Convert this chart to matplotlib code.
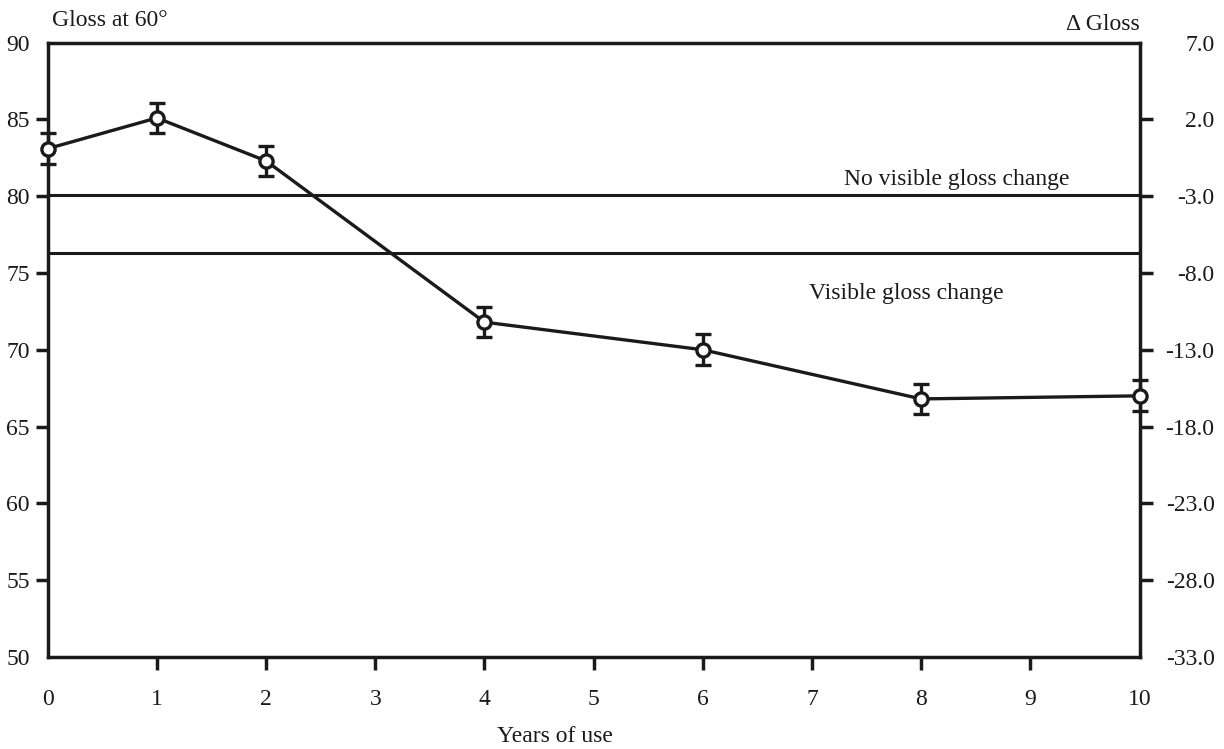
import matplotlib.pyplot as plt
import numpy as np

plt.rcParams['font.family'] = 'Liberation Serif'

years = [0, 1, 2, 4, 6, 8, 10]
gloss = [83.1, 85.1, 82.3, 71.8, 70.0, 66.8, 67.0]
gloss_err = [1.0, 1.0, 1.0, 1.0, 1.0, 1.0, 1.0]
gloss_ref = 83.0
no_visible_level = 80.1
visible_level = 76.3

left_ticks = [50, 55, 60, 65, 70, 75, 80, 85, 90]
right_ticks = [7.0, 2.0, -3.0, -8.0, -13.0, -18.0, -23.0, -28.0, -33.0]
x_ticks = list(range(0, 11))

ink = '#1a1a1a'
tick_len = 9

fig = plt.figure(figsize=(12.24, 7.49), dpi=100)
ax = fig.add_axes([0.039, 0.123, 0.892, 0.820])

ax.axhline(no_visible_level, color=ink, lw=2.2)
ax.axhline(visible_level, color=ink, lw=2.2)

ax.errorbar(years, gloss, yerr=gloss_err, color=ink, lw=2.4,
            marker='o', ms=9.5, mfc='white', mec=ink, mew=2.4,
            capsize=5.5, capthick=2.4, elinewidth=2.4, zorder=3, clip_on=False)

ax.set_xlim(0, 10)
ax.set_ylim(50, 90)

# tick marks only between the frame corners; corner values labelled without a mark
ax.set_xticks(x_ticks[1:-1])
ax.set_xticks([x_ticks[0], x_ticks[-1]], minor=True)
ax.set_xticklabels([str(v) for v in [x_ticks[0], x_ticks[-1]]], minor=True)
ax.set_yticks(left_ticks[1:-1])
ax.set_yticks([left_ticks[0], left_ticks[-1]], minor=True)
ax.set_yticklabels([str(v) for v in [left_ticks[0], left_ticks[-1]]], minor=True)

ax.tick_params(axis='both', which='both', labelsize=17, width=2.5, colors=ink)
ax.tick_params(axis='both', which='major', length=tick_len)
ax.tick_params(axis='both', which='minor', length=0)
ax.tick_params(axis='x', which='major', pad=14)
ax.tick_params(axis='x', which='minor', pad=14 + tick_len)
ax.tick_params(axis='y', which='major', pad=4)
ax.tick_params(axis='y', which='minor', pad=4 + tick_len)
for s in ax.spines.values():
    s.set_linewidth(2.5)
    s.set_color(ink)

# right axis: change in gloss relative to the start value
ax2 = ax.twinx()
ax2.set_ylim(50 - gloss_ref, 90 - gloss_ref)
ax2.set_yticks(right_ticks[1:-1])
ax2.set_yticklabels(['%.1f' % v for v in right_ticks[1:-1]])
ax2.set_yticks([right_ticks[0], right_ticks[-1]], minor=True)
ax2.set_yticklabels(['%.1f' % v for v in [right_ticks[0], right_ticks[-1]]], minor=True)
ax2.tick_params(axis='y', which='both', labelsize=17, width=2.5, colors=ink)
ax2.tick_params(axis='y', which='major', length=tick_len, pad=45)
ax2.tick_params(axis='y', which='minor', length=0, pad=45 + tick_len)
for lab in ax2.get_yticklabels(which='both'):
    lab.set_horizontalalignment('right')
for s in ax2.spines.values():
    s.set_visible(False)

ax.text(8.33, 81.07, 'No visible gloss change', fontsize=17,
        ha='center', va='center', color=ink)
ax.text(7.86, 73.65, 'Visible gloss change', fontsize=17,
        ha='center', va='center', color=ink)

fig.text(52 / 1224, 1 - 20 / 749, 'Gloss at 60°', fontsize=17, ha='left', va='center', color=ink)
fig.text(1140 / 1224, 1 - 25 / 749, '\u0394 Gloss', fontsize=17, ha='right', va='center', color=ink)
fig.text(555 / 1224, 1 - 737 / 749, 'Years of use', fontsize=17, ha='center', va='center', color=ink)

fig.savefig('out.png', dpi=100)
